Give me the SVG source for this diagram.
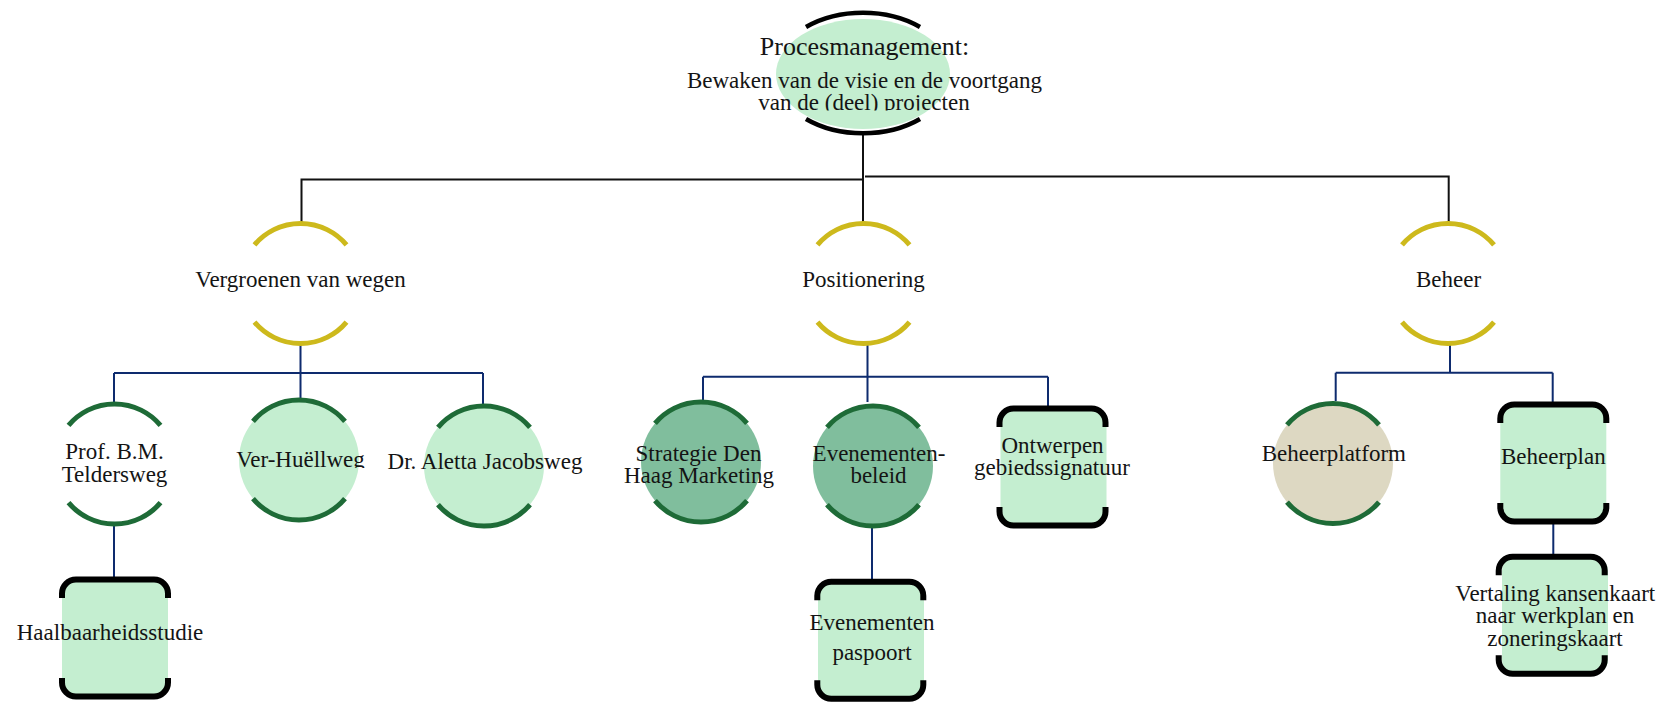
<svg xmlns="http://www.w3.org/2000/svg" width="1665" height="702" viewBox="0 0 1665 702">
<defs>
<style>
.t{font-family:"Liberation Serif","Times New Roman",serif;font-size:23px;fill:#141414;text-anchor:middle}
.big{font-size:26px}
.arcY{fill:none;stroke:#cdb91c;stroke-width:5}
.arcG{fill:none;stroke:#1e6b37;stroke-width:5}
.arcK{fill:none;stroke:#000;stroke-width:4.5}
.brk{fill:none;stroke:#000;stroke-width:6}
.lk{fill:none;stroke:#111;stroke-width:2}
.lb{fill:none;stroke:#0e2b6e;stroke-width:2}
.fl{fill:#c4eed0}
.fm{fill:#80be9d}
.fb{fill:#ddd8c2}
</style>
<path id="arc" d="M-46,-38.6A60,60 0 0 1 46,-38.6M-46,38.6A60,60 0 0 0 46,38.6"/>
<path id="brk" d="M-53,-40V-44.5A14,14 0 0 1 -39,-58.5H39A14,14 0 0 1 53,-44.5V-40M-53,40V44.5A14,14 0 0 0 -39,58.5H39A14,14 0 0 0 53,44.5V40"/>
<rect id="box" x="-53" y="-58.5" width="106" height="117" rx="14"/>
<clipPath id="c1"><rect x="0" y="0" width="1665" height="110.5"/></clipPath>
<clipPath id="c2"><rect x="0" y="0" width="1665" height="468"/></clipPath>
</defs>

<g id="connectors">
<path class="lk" d="M863,133V223M863,179.5H301.5V223M865,176.5H1448.7V223"/>
<path class="lb" d="M300.5,344V398M114,373H483M114,373V404M483,373V404M114,526V578"/>
<path class="lb" d="M867.5,344V402M703,376.7H1048M703,376.7V401M1048,376.7V407M872,528V582"/>
<path class="lb" d="M1450,344V373M1335.7,372.7H1552.7M1335.7,372.7V401M1552.7,372.7V403M1553.3,524V556"/>
</g>

<g id="n-procesmanagement">
<ellipse cx="863" cy="74" rx="87" ry="55" class="fl"/>
<path class="arcK" d="M806,27A88,60 0 0 1 920,27M806,119A88,60 0 0 0 920,119"/>
<text class="t big" x="864.5" y="55">Procesmanagement:</text>
<text class="t" x="864.5" y="88">Bewaken van de visie en de voortgang</text>
<text class="t" x="864" y="110" clip-path="url(#c1)">van de (deel) projecten</text>
</g>

<g id="n-vergroenen">
<use href="#arc" class="arcY" transform="translate(300.5,283.5)"/>
<text class="t" x="300.5" y="287">Vergroenen van wegen</text>
</g>
<g id="n-positionering">
<use href="#arc" class="arcY" transform="translate(863.5,283.5)"/>
<text class="t" x="863.5" y="287">Positionering</text>
</g>
<g id="n-beheer">
<use href="#arc" class="arcY" transform="translate(1448,283.5)"/>
<text class="t" x="1448.5" y="287">Beheer</text>
</g>

<g id="n-teldersweg">
<use href="#arc" class="arcG" transform="translate(114.5,464)"/>
<text class="t" x="114.5" y="459">Prof. B.M.</text>
<text class="t" x="114.5" y="481.5">Teldersweg</text>
</g>
<g id="n-verhuellweg">
<circle cx="299" cy="460" r="60" class="fl"/>
<use href="#arc" class="arcG" transform="translate(299,460)"/>
<text class="t" x="300.5" y="467" clip-path="url(#c2)">Ver-Huëllweg</text>
</g>
<g id="n-jacobsweg">
<circle cx="484" cy="466" r="60" class="fl"/>
<use href="#arc" class="arcG" transform="translate(484,466)"/>
<text class="t" x="485" y="469">Dr. Aletta Jacobsweg</text>
</g>
<g id="n-haalbaarheid">
<use href="#box" class="fl" transform="translate(115,638)"/>
<use href="#brk" class="brk" transform="translate(115,638)"/>
<text class="t" x="110" y="640">Haalbaarheidsstudie</text>
</g>

<g id="n-strategie">
<circle cx="701" cy="462" r="60" class="fm"/>
<use href="#arc" class="arcG" transform="translate(701,462)"/>
<text class="t" x="698.5" y="461">Strategie Den</text>
<text class="t" x="699" y="483">Haag Marketing</text>
</g>
<g id="n-evenementenbeleid">
<circle cx="873" cy="466" r="60" class="fm"/>
<use href="#arc" class="arcG" transform="translate(873,466)"/>
<text class="t" x="879" y="460.5">Evenementen-</text>
<text class="t" x="878.5" y="483">beleid</text>
</g>
<g id="n-ontwerpen">
<use href="#box" class="fl" transform="translate(1053.5,467)"/>
<use href="#brk" class="brk" transform="translate(1052.5,467)"/>
<text class="t" x="1052.5" y="452.7">Ontwerpen</text>
<text class="t" x="1052" y="475">gebiedssignatuur</text>
</g>
<g id="n-paspoort">
<use href="#box" class="fl" transform="translate(871,640.3)"/>
<use href="#brk" class="brk" transform="translate(870.3,640.3)"/>
<text class="t" x="872" y="630">Evenementen</text>
<text class="t" x="872" y="660">paspoort</text>
</g>

<g id="n-beheerplatform">
<circle cx="1333" cy="463.5" r="60" class="fb"/>
<use href="#arc" class="arcG" transform="translate(1333,463.5)"/>
<text class="t" x="1333.8" y="461">Beheerplatform</text>
</g>
<g id="n-beheerplan">
<use href="#box" class="fl" transform="translate(1553.3,462.9)"/>
<use href="#brk" class="brk" transform="translate(1553.3,462.9)"/>
<text class="t" x="1553.3" y="464.3">Beheerplan</text>
</g>
<g id="n-vertaling">
<use href="#box" class="fl" transform="translate(1555,615.3)"/>
<use href="#brk" class="brk" transform="translate(1551.7,615.3)"/>
<text class="t" x="1555.3" y="600.5">Vertaling kansenkaart</text>
<text class="t" x="1555" y="623">naar werkplan en</text>
<text class="t" x="1555" y="645.5">zoneringskaart</text>
</g>
</svg>
